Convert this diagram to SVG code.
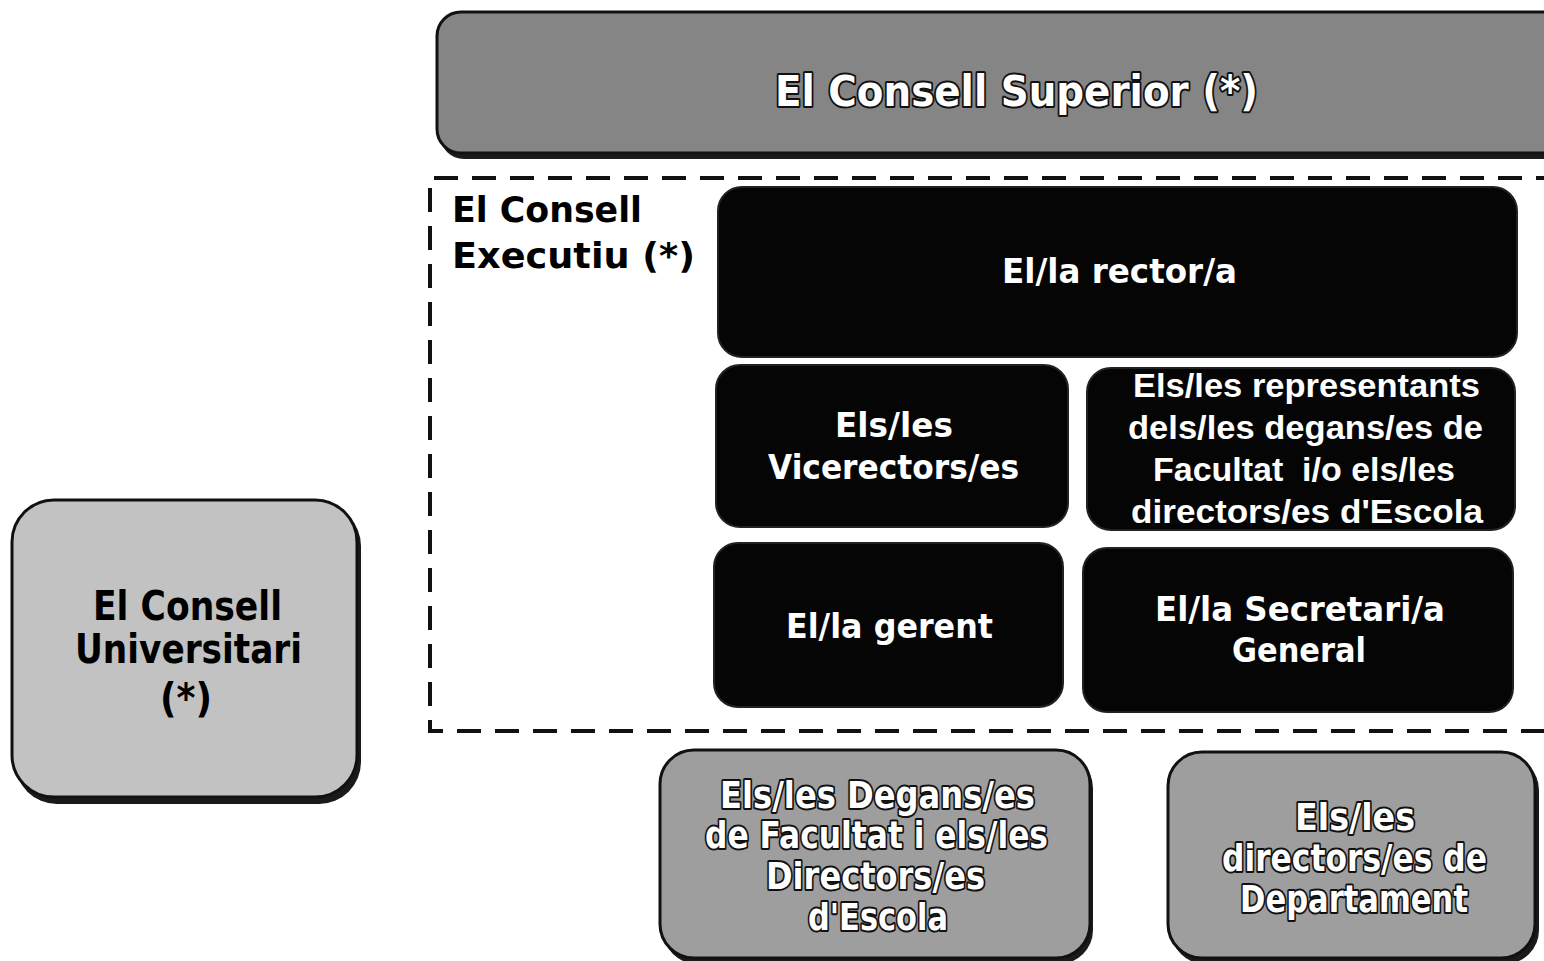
<svg xmlns="http://www.w3.org/2000/svg" width="1544" height="961" viewBox="0 0 1544 961">
<style>
.bg{fill:#ffffff}
.shadow{fill:#1a1a1a}
.gray1{fill:#858585;stroke:#111;stroke-width:3}
.gray2{fill:#c2c2c2;stroke:#111;stroke-width:3}
.gray3{fill:#9e9e9e;stroke:#111;stroke-width:3}
.black{fill:#050505;stroke:#222;stroke-width:2}
.frame{fill:none;stroke:#111;stroke-width:4;stroke-dasharray:24 14}
.vb{font-family:"DejaVu Sans",Verdana,sans-serif;font-weight:bold}
.ar{font-family:"Liberation Sans",Arial,sans-serif;font-weight:bold}
.wt{fill:#ffffff}
.wo{fill:#ffffff;stroke:#111;stroke-width:4;paint-order:stroke;stroke-linejoin:round}
.bk{fill:#000000}
</style>
<rect class="bg" x="0" y="0" width="1544" height="961"/>

<g id="consell-superior">
<rect class="shadow" x="440" y="16" width="1130" height="143" rx="24"/>
<rect class="gray1" x="437" y="12" width="1130" height="141" rx="24"/>
<text class="vb wo" x="775" y="106" font-size="43" textLength="483" lengthAdjust="spacingAndGlyphs">El Consell Superior (*)</text>
</g>

<g id="consell-executiu">
<path class="frame" d="M1560,178 L430,178 L430,731 L1560,731"/>
<text class="vb bk" x="452" y="222" font-size="35" textLength="190" lengthAdjust="spacingAndGlyphs">El Consell</text>
<text class="vb bk" x="452" y="268" font-size="35" textLength="243" lengthAdjust="spacingAndGlyphs">Executiu (*)</text>
</g>

<g id="rector">
<rect class="black" x="718" y="187" width="799" height="170" rx="24"/>
<text class="vb wt" x="1002" y="283" font-size="34" textLength="235" lengthAdjust="spacingAndGlyphs">El/la rector/a</text>
</g>

<g id="vicerectors">
<rect class="black" x="716" y="365" width="352" height="162" rx="24"/>
<text class="vb wt" x="835" y="437" font-size="34" textLength="118" lengthAdjust="spacingAndGlyphs">Els/les</text>
<text class="vb wt" x="768" y="479" font-size="34" textLength="251" lengthAdjust="spacingAndGlyphs">Vicerectors/es</text>
</g>

<g id="representants">
<rect class="black" x="1087" y="368" width="428" height="162" rx="24"/>
<text class="ar wt" x="1133" y="397" font-size="33" textLength="347" lengthAdjust="spacingAndGlyphs">Els/les representants</text>
<text class="ar wt" x="1128" y="439" font-size="33" textLength="355" lengthAdjust="spacingAndGlyphs">dels/les degans/es de</text>
<text class="ar wt" x="1153" y="481" font-size="33" textLength="302" lengthAdjust="spacingAndGlyphs" xml:space="preserve">Facultat  i/o els/les</text>
<text class="ar wt" x="1131" y="523" font-size="33" textLength="352" lengthAdjust="spacingAndGlyphs">directors/es d'Escola</text>
</g>

<g id="gerent">
<rect class="black" x="714" y="543" width="349" height="164" rx="24"/>
<text class="vb wt" x="786" y="638" font-size="34" textLength="207" lengthAdjust="spacingAndGlyphs">El/la gerent</text>
</g>

<g id="secretari">
<rect class="black" x="1083" y="548" width="430" height="164" rx="24"/>
<text class="vb wt" x="1155" y="621" font-size="34" textLength="290" lengthAdjust="spacingAndGlyphs">El/la Secretari/a</text>
<text class="vb wt" x="1232" y="662" font-size="34" textLength="134" lengthAdjust="spacingAndGlyphs">General</text>
</g>

<g id="consell-universitari">
<rect class="shadow" x="15" y="504" width="346" height="300" rx="42"/>
<rect class="gray2" x="12" y="500" width="345" height="297" rx="42"/>
<text class="vb bk" x="93" y="620" font-size="40" textLength="189" lengthAdjust="spacingAndGlyphs">El Consell</text>
<text class="vb bk" x="75" y="663" font-size="40" textLength="227" lengthAdjust="spacingAndGlyphs">Universitari</text>
<text class="vb bk" x="160" y="712" font-size="40" textLength="52" lengthAdjust="spacingAndGlyphs">(*)</text>
</g>

<g id="degans">
<rect class="shadow" x="663" y="754" width="430" height="210" rx="34"/>
<rect class="gray3" x="660" y="750" width="430" height="208" rx="34"/>
<text class="vb wo" x="720" y="808" font-size="38" textLength="315" lengthAdjust="spacingAndGlyphs">Els/les Degans/es</text>
<text class="vb wo" x="705" y="848" font-size="38" textLength="343" lengthAdjust="spacingAndGlyphs">de Facultat i els/les</text>
<text class="vb wo" x="766" y="889" font-size="38" textLength="219" lengthAdjust="spacingAndGlyphs">Directors/es</text>
<text class="vb wo" x="808" y="930" font-size="38" textLength="140" lengthAdjust="spacingAndGlyphs">d'Escola</text>
</g>

<g id="departament">
<rect class="shadow" x="1171" y="756" width="368" height="208" rx="34"/>
<rect class="gray3" x="1168" y="752" width="367" height="206" rx="34"/>
<text class="vb wo" x="1295" y="830" font-size="38" textLength="120" lengthAdjust="spacingAndGlyphs">Els/les</text>
<text class="vb wo" x="1222" y="871" font-size="38" textLength="265" lengthAdjust="spacingAndGlyphs">directors/es de</text>
<text class="vb wo" x="1240" y="912" font-size="38" textLength="228" lengthAdjust="spacingAndGlyphs">Departament</text>
</g>

<g id="connectors"></g>
</svg>
